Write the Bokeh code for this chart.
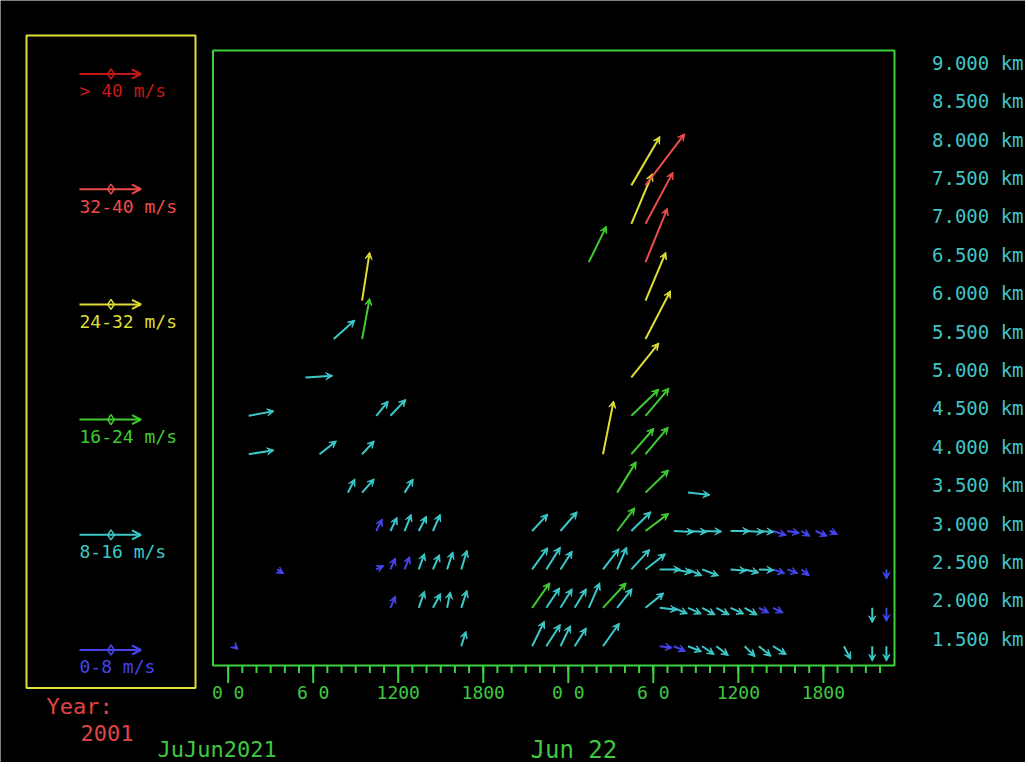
import numpy as np
from bokeh.plotting import figure
from bokeh.models import Range1d, Arrow, VeeHead, OpenHead, ColumnDataSource
from bokeh.core.properties import value
from bokeh.embed import file_html
from bokeh.resources import INLINE

# ---------------- data ----------------
# observation time (hours since Jun 21 00:00), height (km), wind components (m/s)
obs_hour = [
    9.45, 9.45, 7.45, 5.45, 1.45, 10.45, 11.45, 1.45, 6.45, 9.45,
    8.45, 9.45, 12.45, 10.45, 11.45, 12.45, 13.45, 14.45,
    3.45, 10.45, 11.45, 12.45, 13.45, 14.45, 15.45, 16.45,
    11.45, 13.45, 14.45, 15.45, 16.45, 0.45, 16.45,
    21.45, 23.45, 27.45, 28.45, 29.45,
    21.45, 22.45, 23.45, 26.45, 27.45, 28.45, 29.45,
    21.45, 22.45, 23.45, 24.45, 25.45, 26.45, 27.45, 29.45,
    21.45, 22.45, 23.45, 24.45, 26.45,
    27.45, 29.45, 32.45, 26.45, 28.45, 29.45, 28.45, 29.45, 28.45,
    29.45, 29.45, 25.45, 29.45, 28.45, 29.45, 28.45, 29.45,
    31.45, 32.45, 33.45, 35.45, 36.45, 37.45, 38.45, 39.45, 40.45, 41.45, 42.45,
    30.45, 31.45, 32.45, 33.45, 35.45, 36.45, 37.45, 38.45, 39.45, 40.45, 46.45,
    30.45, 31.45, 32.45, 33.45, 34.45, 35.45, 36.45, 37.45, 38.45, 45.45, 46.45,
    30.45, 31.45, 32.45, 33.45, 34.45, 36.45, 37.45, 38.45, 43.45, 45.45, 46.45,
]
obs_km = [
    6.0, 5.5, 5.5, 5.0, 4.5, 4.5, 4.5, 4.0, 4.0, 4.0,
    3.5, 3.5, 3.5, 3.0, 3.0, 3.0, 3.0, 3.0,
    2.5, 2.5, 2.5, 2.5, 2.5, 2.5, 2.5, 2.5,
    2.0, 2.0, 2.0, 2.0, 2.0, 1.5, 1.5,
    3.0, 3.0, 3.0, 3.0, 3.0,
    2.5, 2.5, 2.5, 2.5, 2.5, 2.5, 2.5,
    2.0, 2.0, 2.0, 2.0, 2.0, 2.0, 2.0, 2.0,
    1.5, 1.5, 1.5, 1.5, 1.5,
    3.5, 3.5, 3.5, 4.0, 4.0, 4.0, 4.5, 4.5, 5.0,
    5.5, 6.0, 6.5, 6.5, 7.0, 7.0, 7.5, 7.5,
    3.0, 3.0, 3.0, 3.0, 3.0, 3.0, 3.0, 3.0, 3.0, 3.0, 3.0,
    2.5, 2.5, 2.5, 2.5, 2.5, 2.5, 2.5, 2.5, 2.5, 2.5, 2.5,
    2.0, 2.0, 2.0, 2.0, 2.0, 2.0, 2.0, 2.0, 2.0, 2.0, 2.0,
    1.5, 1.5, 1.5, 1.5, 1.5, 1.5, 1.5, 1.5, 1.5, 1.5, 1.5,
]
wind_u = [
    4.2, 4.2, 11.8, 15.2, 14.1, 6.7, 8.6, 14.1, 9.4, 6.8,
    3.9, 6.8, 4.8, 3.3, 3.7, 3.7, 4.3, 4.1,
    3.7, 4.2, 2.8, 2.8, 3.2, 3.7, 3.2, 3.2,
    2.8, 3.2, 4.3, 1.8, 3.2, 1.9, 2.6,
    8.7, 9.3, 9.8, 10.9, 12.9,
    8.7, 7.8, 6.5, 8.9, 5.3, 10.2, 11.1,
    9.8, 7.4, 6.5, 6.5, 6.1, 12.9, 8.3, 10.2,
    6.8, 7.8, 5.6, 6.5, 9.1,
    10.6, 12.9, 12.2, 5.9, 12.6, 12.6, 15.3, 13.1, 15.3,
    13.9, 11.3, 9.8, 12.2, 11.7, 15.3, 15.9, 21.8,
    11.1, 10.6, 10.9, 10.7, 10.6, 8.3, 7.4, 6.8, 4.8, 6.5, 4.3,
    11.7, 10.0, 7.8, 9.1, 8.9, 7.9, 8.3, 6.5, 5.9, 4.4, 0.0,
    9.8, 7.6, 7.4, 7.2, 7.2, 7.4, 7.0, 5.6, 5.6, 0.0, 0.0,
    7.0, 6.5, 7.6, 6.7, 6.7, 5.8, 6.8, 7.4, 3.8, 0.0, 0.0,
]
wind_v = [
    26.9, 22.6, 10.5, 0.9, 2.6, 8.2, 9.1, 2.2, 7.4, 7.4,
    7.6, 7.6, 7.6, 6.7, 7.6, 9.3, 8.3, 9.3,
    -2.4, 2.0, 6.4, 7.2, 8.9, 8.3, 9.8, 10.7,
    6.5, 9.3, 8.0, 8.9, 9.8, -1.8, 8.3,
    9.4, 10.7, 12.9, 10.7, 9.8,
    12.1, 12.4, 10.2, 11.5, 12.4, 11.1, 8.7,
    13.9, 11.1, 10.6, 10.6, 13.9, 13.9, 10.6, 8.3,
    13.9, 12.1, 11.5, 10.2, 12.8,
    17.2, 12.6, -1.3, 29.6, 14.4, 15.0, 14.8, 15.4, 19.1,
    26.8, 26.9, 20.0, 30.0, 27.8, 28.7, 27.2, 28.7,
    -0.5, -0.5, -0.3, 0.0, -0.5, -0.5, -2.4, -1.1, -2.9, -2.8, -1.8,
    0.0, -1.7, -3.5, -3.5, -0.7, -1.8, -0.4, -2.2, -2.2, -3.5, -5.4,
    -1.1, -3.3, -3.4, -3.9, -3.9, -3.4, -4.0, -2.8, -2.8, -8.3, -7.6,
    -0.8, -2.8, -3.0, -4.6, -5.2, -5.8, -5.6, -4.6, -7.3, -8.3, -8.3,
]

speed_edges = [8, 16, 24, 32, 40]
bin_labels = ["0-8 m/s", "8-16 m/s", "16-24 m/s", "24-32 m/s", "32-40 m/s", "> 40 m/s"]
bin_colors = ["#4444ee", "#3cc8c8", "#40cc30", "#dede36", "#ee4c4c", "#c41818"]

tick_hours = [0, 6, 12, 18, 24, 30, 36, 42]
tick_labels = ["0 0", "6 0", "1200", "1800", "0 0", "6 0", "1200", "1800"]
minor_hours = list(range(0, 47))
height_ticks = [1.5, 2.0, 2.5, 3.0, 3.5, 4.0, 4.5, 5.0, 5.5, 6.0, 6.5, 7.0, 7.5, 8.0, 8.5, 9.0]
date_labels = ["JuJun2021", "Jun 22"]
year_title = "Year:"
year_value = "2001"

# ---------------- layout (canvas pixels) ----------------
W, H = 1025, 762
FL, FR, FT, FB = 212.5, 894.0, 50.0, 665.0   # wind-plot frame in canvas px
X0, X1 = -1.07, 47.02               # hours at frame left / right
Y0, Y1 = 1.249, 9.256               # km at frame bottom / top
KX = (FR - FL) / (X1 - X0)
KY = (FB - FT) / (Y1 - Y0)
XL = X0 - FL / KX
XR = X0 + (W - FL) / KX
YT = Y1 + FT / KY
YB = Y1 - (H - FT) / KY
S = 1.8  # arrow px per m/s

FRAME = "#3ed23e"
LBL_GREEN = "#40c840"
YBOX = "#dede36"
RED_TXT = "#e04444"
CYAN_TXT = "#40c4c4"
FONT = "DejaVu Sans Mono"


def sx(cx):
    """canvas pixel x -> hours"""
    return XL + cx / KX


def sy(cy):
    """canvas pixel y -> km"""
    return YT - cy / KY


p = figure(width=W, height=H, x_range=Range1d(XL, XR), y_range=Range1d(YB, YT),
           output_backend="svg", toolbar_location=None,
           x_axis_location=None, y_axis_location=None,
           min_border=0, min_border_left=0, min_border_right=0,
           min_border_top=0, min_border_bottom=0,
           background_fill_color="black", border_fill_color="black",
           outline_line_color=None)
p.grid.visible = False

# plot frame
p.quad(left=[X0], right=[X1], bottom=[Y0], top=[Y1], fill_color=None,
       line_color=FRAME, line_width=2)

# time axis: ticks and labels
p.segment(x0=minor_hours, y0=Y0, x1=minor_hours, y1=Y0 - 7.5 / KY,
          line_color=FRAME, line_width=2)
p.segment(x0=tick_hours, y0=Y0, x1=tick_hours, y1=Y0 - 17.5 / KY,
          line_color=FRAME, line_width=2)
p.text(x=tick_hours, y=sy(691.7), text=tick_labels, text_color=LBL_GREEN,
       text_font=value(FONT), text_font_size="18px",
       text_align="center", text_baseline="middle")

# height labels on the right (glyphs sit just above their level)
p.text(x=sx(931.5), y=[h + 7.4 / KY for h in height_ticks],
       text=["%.3f km" % h for h in height_ticks], text_color=CYAN_TXT,
       text_font=value(FONT), text_font_size="19px",
       text_align="left", text_baseline="middle")

# ---------------- wind arrows ----------------
hrs = np.array(obs_hour)
km = np.array(obs_km)
uu = np.array(wind_u)
vv = np.array(wind_v)
spd = np.hypot(uu, vv)
cls = np.digitize(spd, speed_edges)
xe = hrs + uu * S / KX
ye = km + vv * S / KY
for i, col in enumerate(bin_colors):
    m = cls == i
    if not m.any():
        continue
    src = ColumnDataSource(dict(x0=hrs[m], y0=km[m], x1=xe[m], y1=ye[m]))
    p.add_layout(Arrow(source=src, x_start="x0", y_start="y0", x_end="x1", y_end="y1",
                       line_color=col, line_width=2,
                       end=VeeHead(size=7, fill_color=col, line_color=col, line_width=1)))

# ---------------- legend panel ----------------
p.quad(left=[sx(26)], right=[sx(195)], top=[sy(35)], bottom=[sy(687.5)],
       fill_color=None, line_color=YBOX, line_width=2)
leg_y = [73.5 + 115.2 * k for k in range(6)]
leg_idx = [5, 4, 3, 2, 1, 0]
for ry, i in zip(leg_y, leg_idx):
    col = bin_colors[i]
    p.add_layout(Arrow(x_start=sx(79), y_start=sy(ry), x_end=sx(140.5), y_end=sy(ry),
                       line_color=col, line_width=2,
                       end=OpenHead(size=9, line_color=col, line_width=2)))
p.scatter(x=sx(110.5), y=[sy(ry) for ry in leg_y], marker="diamond", size=10,
          fill_color="black", line_color=[bin_colors[i] for i in leg_idx], line_width=1.5)
p.text(x=sx(79), y=[sy(ry + 16.8) for ry in leg_y], text=[bin_labels[i] for i in leg_idx],
       text_color=[bin_colors[i] for i in leg_idx], text_font=value(FONT),
       text_font_size="18px", text_align="left", text_baseline="middle")

# year and dates
p.text(x=[sx(46)], y=[sy(705.5)], text=[year_title], text_color=RED_TXT,
       text_font=value(FONT), text_font_size="22px",
       text_align="left", text_baseline="middle")
p.text(x=[sx(80)], y=[sy(732.5)], text=[year_value], text_color=RED_TXT,
       text_font=value(FONT), text_font_size="22px",
       text_align="left", text_baseline="middle")
p.text(x=[sx(157)], y=[sy(748.5)], text=[date_labels[0]],
       text_color=LBL_GREEN, text_font=value(FONT), text_font_size="22px",
       text_align="left", text_baseline="middle")
p.text(x=[sx(530)], y=[sy(749)], text=[date_labels[1]],
       text_color=LBL_GREEN, text_font=value(FONT), text_font_size="24px",
       text_align="left", text_baseline="middle")

open("out.html", "w").write(file_html(p, INLINE))
